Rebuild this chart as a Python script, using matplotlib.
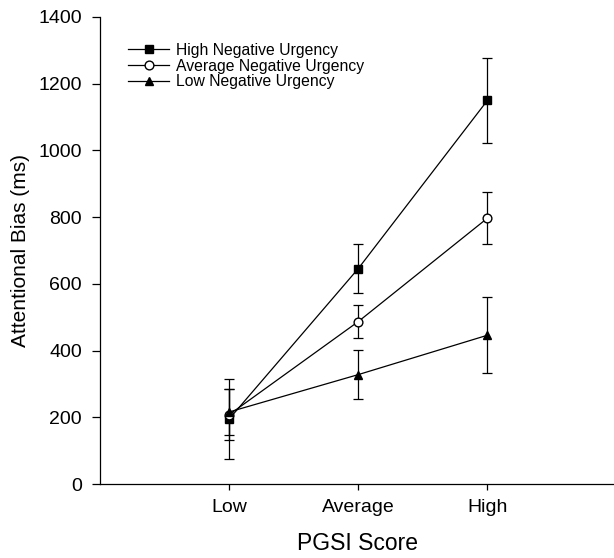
import matplotlib.pyplot as plt
import numpy as np

plt.rcParams['font.family'] = ['Liberation Sans', 'DejaVu Sans']

pgsi_levels = ['Low', 'Average', 'High']

high_nu = [195, 646, 1150]
high_nu_err = [120, 72, 127]

avg_nu = [208, 487, 797]
avg_nu_err = [76, 49, 79]

low_nu = [216, 328, 446]
low_nu_err = [70, 73, 114]

x = np.arange(1, len(pgsi_levels) + 1)

fig = plt.figure(figsize=(6.14, 5.58), dpi=100)
ax = fig.add_axes([0.163, 0.1326, 0.837, 0.837])

common = dict(color='black', ecolor='black', lw=0.9, elinewidth=0.9,
              capsize=3.8, capthick=0.9, markersize=6.3)

ax.errorbar(x, high_nu, yerr=high_nu_err, fmt='-s', mfc='black', mec='black',
            label='High Negative Urgency', **common)
ax.errorbar(x, avg_nu, yerr=avg_nu_err, fmt='-o', mfc='white', mec='black',
            label='Average Negative Urgency', **common)
ax.errorbar(x, low_nu, yerr=low_nu_err, fmt='-^', mfc='black', mec='black',
            label='Low Negative Urgency', **common)

ax.set_xlim(0, 3.98)
ax.set_ylim(0, 1400)
ax.set_yticks(np.arange(0, 1401, 200))
ax.set_xticks(x)
ax.set_xticklabels(pgsi_levels)

ax.spines['top'].set_visible(False)
ax.spines['right'].set_visible(False)
for s in ['left', 'bottom']:
    ax.spines[s].set_linewidth(0.9)

ax.tick_params(axis='both', direction='out', labelsize=14, width=0.9, colors='black')
ax.tick_params(axis='y', length=6, pad=7)
ax.tick_params(axis='x', length=4, pad=7)

ax.set_xlabel('PGSI Score', fontsize=16.5, labelpad=11)
ax.set_ylabel('Attentional Bias (ms)', fontsize=15, labelpad=6)

handles, labels = ax.get_legend_handles_labels()
handles = [h[0] for h in handles]
ax.legend(handles, labels, loc='upper left', bbox_to_anchor=(0.043, 0.958),
          frameon=False, fontsize=11.3, handlelength=2.6, handletextpad=0.45,
          labelspacing=0.05, borderaxespad=0)

fig.savefig('out.png', dpi=100)
